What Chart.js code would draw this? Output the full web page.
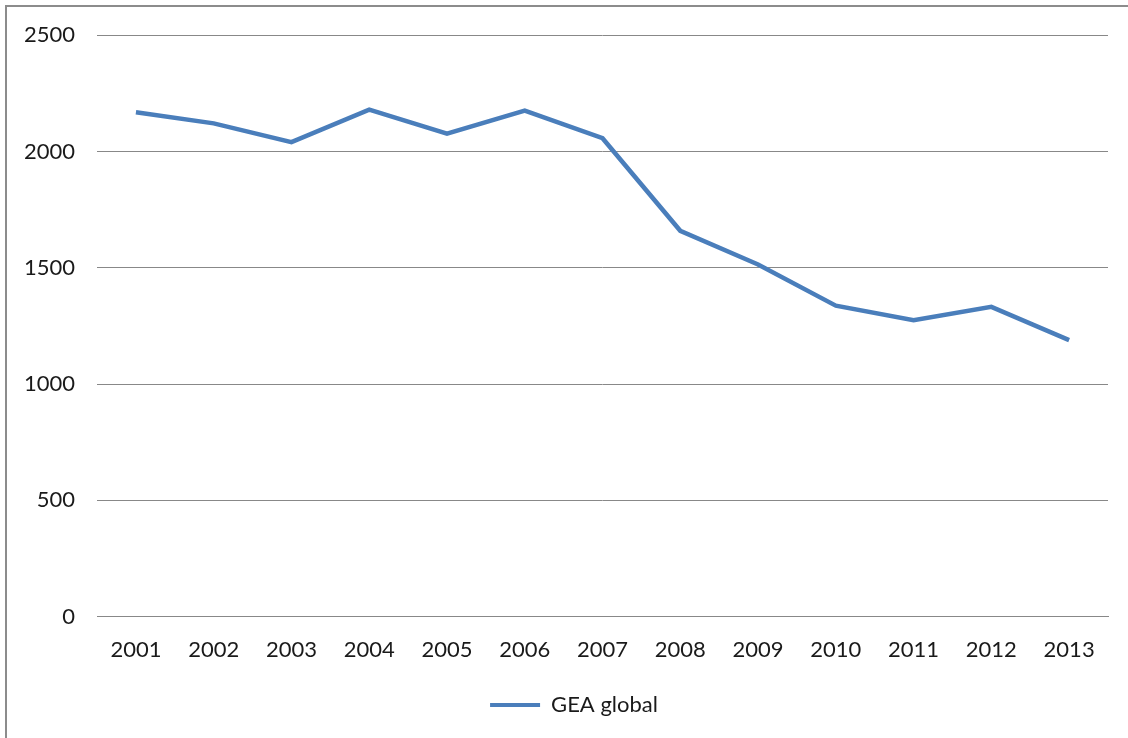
<!DOCTYPE html>
<html>
<head>
<meta charset="utf-8">
<script src="https://cdn.jsdelivr.net/npm/chart.js@4/dist/chart.umd.min.js"></script>
<style>
  html, body { margin: 0; padding: 0; width: 1128px; height: 738px; overflow: hidden; background: #fff; }
  #frame { position: absolute; left: 5px; top: 5px; width: 2000px; height: 2000px; border: 2px solid #8c8c8c; background: #fff; }
  #wrap { position: absolute; left: 0; top: 0; width: 1128px; height: 738px; }
</style>
</head>
<body>
<div id="frame"></div>
<div id="wrap"><canvas id="c" width="1128" height="738"></canvas></div>
<script>
const years = ['2001','2002','2003','2004','2005','2006','2007','2008','2009','2010','2011','2012','2013'];
const geaGlobal = [2169, 2121, 2040, 2180, 2077, 2176, 2057, 1659, 1514, 1337, 1274, 1332, 1189];
const seriesName = 'GEA global';
const yTicks = [0, 500, 1000, 1500, 2000, 2500];

const blue = '#4a7ebb';
const textColor = '#1a1a1a';
const gridColor = '#888888';
const fontFamily = 'Lato, "Open Sans", sans-serif';

const legendShift = {
  id: 'legendShift',
  afterLayout(chart) {
    if (chart.legend) { chart.legend.left += 8; chart.legend.right += 8; }
  }
};

new Chart(document.getElementById('c'), {
  type: 'line',
  data: {
    labels: years,
    datasets: [{
      label: seriesName,
      data: geaGlobal,
      borderColor: blue,
      backgroundColor: blue,
      borderWidth: 4.5,
      pointRadius: 0,
      pointHoverRadius: 0,
      tension: 0,
      fill: false
    }]
  },
  plugins: [legendShift],
  options: {
    responsive: false,
    animation: false,
    layout: { padding: { left: 24, right: 20, top: 21, bottom: 12 } },
    plugins: {
      tooltip: { enabled: false },
      legend: {
        position: 'bottom',
        labels: {
          color: textColor,
          font: { family: fontFamily, size: 22 },
          boxWidth: 50,
          boxHeight: 4,
          padding: 11,
          generateLabels(chart) {
            const items = Chart.defaults.plugins.legend.labels.generateLabels(chart);
            items.forEach(it => { it.lineWidth = 0; it.fillStyle = blue; it.strokeStyle = blue; });
            return items;
          }
        }
      }
    },
    scales: {
      x: {
        offset: true,
        grid: { display: false, drawTicks: false },
        border: { display: true, color: gridColor, width: 1 },
        ticks: { color: textColor, font: { family: fontFamily, size: 22 }, padding: 20, maxRotation: 0 }
      },
      y: {
        min: 0,
        max: 2500,
        afterBuildTicks(scale) { scale.ticks = yTicks.map(v => ({ value: v })); },
        afterFit(scale) { scale.width -= 22; },
        grid: { color: gridColor, lineWidth: 1, drawTicks: false },
        border: { display: false },
        ticks: {
          color: textColor,
          font: { family: fontFamily, size: 22 },
          padding: 22,
          callback: (v) => String(v)
        }
      }
    }
  }
});
</script>
</body>
</html>
